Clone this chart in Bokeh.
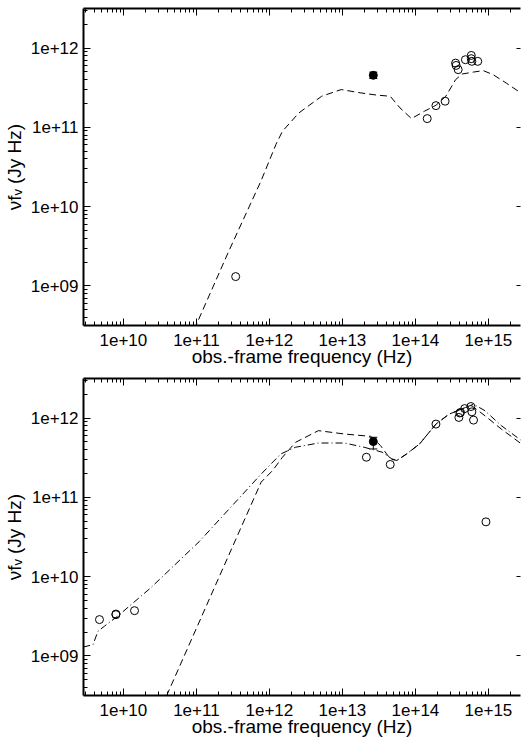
from bokeh.plotting import figure
from bokeh.layouts import column
from bokeh.models import (Range1d, LogAxis, LogTicker, CustomJSTickFormatter,
                          Whisker, TeeHead, ColumnDataSource)
from bokeh.embed import file_html
from bokeh.resources import INLINE

# ---------------- data ----------------
# top panel: model (dashed)
top_model_x = [9.3e10, 2.75e11, 7.64e11, 1.23e12, 1.51e12, 2.53e12, 5.19e12, 9.64e12,
               1.79e13, 3.0e13, 4.52e13, 6.15e13, 8.83e13, 1.33e14, 1.91e14, 2.61e14,
               3.55e14, 4.36e14, 6.25e14, 8.51e14, 1.16e15, 1.75e15, 2.78e15]
top_model_y = [2.8e8, 2.69e9, 2.09e10, 6.10e10, 8.95e10, 1.52e11, 2.47e11, 3.00e11,
               2.72e11, 2.55e11, 2.47e11, 1.76e11, 1.29e11, 1.60e11, 1.90e11, 2.47e11,
               4.00e11, 4.71e11, 4.99e11, 5.20e11, 4.62e11, 3.63e11, 2.72e11]
# top panel: photometry (open circles)
top_obs_x = [3.45e11, 1.45e14, 1.91e14, 2.55e14, 3.55e14, 3.61e14, 3.85e14,
             4.84e14, 5.82e14, 5.82e14, 5.93e14, 7.14e14]
top_obs_y = [1.31e9, 1.29e11, 1.88e11, 2.14e11, 6.47e11, 6.05e11, 5.35e11,
             7.14e11, 8.09e11, 7.36e11, 6.81e11, 6.81e11]
# top panel: filled point with error bar
top_pt_x = [2.65e13]
top_pt_y = [4.54e11]
top_pt_lo = [4.14e11]
top_pt_hi = [4.98e11]

# bottom panel: model 1 (dashed)
bot_model1_x = [3.90e10, 1.73e11, 7.71e11, 1.11e12, 1.51e12, 2.28e12, 4.69e12, 1.07e13,
                2.44e13, 3.32e13, 4.52e13, 5.56e13, 7.57e13, 1.14e14, 1.91e14, 2.88e14,
                4.84e14, 5.93e14, 8.97e14, 1.50e15, 2.84e15]
bot_model1_y = [3.13e8, 6.98e9, 1.56e11, 2.19e11, 3.21e11, 4.95e11, 6.95e11, 6.30e11,
                5.89e11, 4.51e11, 3.06e11, 2.92e11, 3.53e11, 4.72e11, 8.41e11, 1.12e12,
                1.36e12, 1.43e12, 1.07e12, 7.28e11, 4.72e11]
# bottom panel: model 2 (dash-dot)
bot_model2_x = [2.82e9, 3.84e9, 4.48e9, 5.50e9, 8.30e9, 2.32e10, 1.09e11, 7.71e11,
                1.43e12, 2.28e12, 4.69e12, 1.07e13, 1.98e13, 3.50e13, 4.76e13, 5.56e13,
                7.57e13, 1.14e14, 1.91e14, 2.88e14, 4.84e14, 6.25e14, 8.97e14, 1.50e15,
                2.84e15]
bot_model2_y = [1.29e9, 1.39e9, 2.05e9, 2.37e9, 3.16e9, 7.10e9, 2.76e10, 1.97e11,
                3.53e11, 4.29e11, 4.85e11, 4.85e11, 4.29e11, 3.72e11, 3.06e11, 2.92e11,
                3.53e11, 4.72e11, 8.41e11, 1.12e12, 1.36e12, 1.50e12, 1.24e12, 8.04e11,
                5.20e11]
# bottom panel: photometry (open circles)
bot_obs_x = [4.70e9, 7.89e9, 7.89e9, 1.42e10, 2.13e13, 4.52e13, 1.91e14, 3.94e14,
             4.06e14, 4.15e14, 4.73e14, 5.75e14, 5.93e14, 6.25e14, 9.25e14]
bot_obs_y = [2.87e9, 3.37e9, 3.31e9, 3.72e9, 3.21e11, 2.60e11, 8.41e11, 1.02e12,
             1.16e12, 1.18e12, 1.32e12, 1.40e12, 1.20e12, 9.44e11, 4.91e10]
# bottom panel: filled point with error bar
bot_pt_x = [2.65e13]
bot_pt_y = [5.06e11]
bot_pt_lo = [4.08e11]
bot_pt_hi = [5.73e11]

X_LABEL = "obs.-frame frequency (Hz)"
Y_LABEL = "\u03bdf\u1d65 (Jy Hz)"

X_START, X_END = 2.84e9, 2.75e15
Y_START, Y_END = 3.162e8, 3.162e12

FONT = "Liberation Sans"
FMT = "const e = Math.round(Math.log10(tick)); return '1e+' + (e < 10 ? '0' + e : String(e));"


def style_axis(ax, minor=True, line=True, major_len=7):
    ax.axis_line_width = 2
    ax.axis_line_color = "black" if line else None
    ax.major_tick_in = major_len
    ax.major_tick_out = 0
    ax.minor_tick_in = 4 if minor else 0
    ax.minor_tick_out = 0
    ax.major_tick_line_color = "black"
    ax.minor_tick_line_color = "black" if minor else None
    ax.major_tick_line_width = 1
    ax.minor_tick_line_width = 1


def mirror_axis():
    ax = LogAxis(ticker=LogTicker(num_minor_ticks=10),
                 formatter=CustomJSTickFormatter(code="return '';"),
                 major_label_text_font_size="1px", major_label_standoff=0)
    return ax


def make_fig(height, b_top, b_bottom):
    p = figure(width=521, height=height, x_axis_type="log", y_axis_type="log",
               x_range=Range1d(X_START, X_END), y_range=Range1d(Y_START, Y_END),
               output_backend="svg", toolbar_location=None,
               min_border_left=74, min_border_right=1,
               min_border_top=b_top, min_border_bottom=b_bottom)
    p.xgrid.visible = False
    p.ygrid.visible = False
    p.outline_line_color = None
    p.background_fill_color = "white"

    bx = p.below[0]
    ly = p.left[0]
    for ax in (bx, ly):
        style_axis(ax)
        ax.ticker = LogTicker(num_minor_ticks=10)
        ax.formatter = CustomJSTickFormatter(code=FMT)
        ax.major_label_text_font = FONT
        ax.major_label_text_font_size = "17px"
        ax.major_label_text_color = "black"
        ax.axis_label_text_font = FONT
        ax.axis_label_text_font_size = "19px"
        ax.axis_label_text_font_style = "normal"
        ax.axis_label_text_color = "black"
    bx.axis_label = X_LABEL
    ly.axis_label = Y_LABEL
    bx.major_label_standoff = 8
    bx.axis_label_standoff = -3
    ly.major_label_standoff = 5
    ly.axis_label_standoff = 3

    top = mirror_axis()
    style_axis(top)
    p.add_layout(top, "above")
    right = mirror_axis()
    style_axis(right, minor=False, line=False, major_len=4)
    p.add_layout(right, "right")
    return p


def add_point(p, xs, ys, lo, hi):
    src = ColumnDataSource(dict(x=xs, y=ys, lower=lo, upper=hi))
    w = Whisker(source=src, base="x", upper="upper", lower="lower", dimension="height",
                line_color="black", line_width=1,
                upper_head=TeeHead(size=8, line_color="black", line_width=1),
                lower_head=TeeHead(size=8, line_color="black", line_width=1))
    p.add_layout(w)
    p.scatter("x", "y", source=src, marker="circle", size=8,
              fill_color="black", line_color="black")


# ---- top panel ----
p1 = make_fig(370, 8, 45)
p1.line(top_model_x, top_model_y, line_color="black", line_width=1, line_dash="7 4")
p1.scatter(top_obs_x, top_obs_y, marker="circle", size=8, fill_color=None,
           line_color="black", line_width=1)
add_point(p1, top_pt_x, top_pt_y, top_pt_lo, top_pt_hi)

# ---- bottom panel ----
p2 = make_fig(369, 8, 44)
p2.line(bot_model1_x, bot_model1_y, line_color="black", line_width=1, line_dash="7 4")
p2.line(bot_model2_x, bot_model2_y, line_color="black", line_width=1, line_dash="7 3 1 3")
p2.scatter(bot_obs_x, bot_obs_y, marker="circle", size=8, fill_color=None,
           line_color="black", line_width=1)
add_point(p2, bot_pt_x, bot_pt_y, bot_pt_lo, bot_pt_hi)

layout = column(p1, p2, spacing=0)
open("out.html", "w").write(file_html(layout, INLINE))
